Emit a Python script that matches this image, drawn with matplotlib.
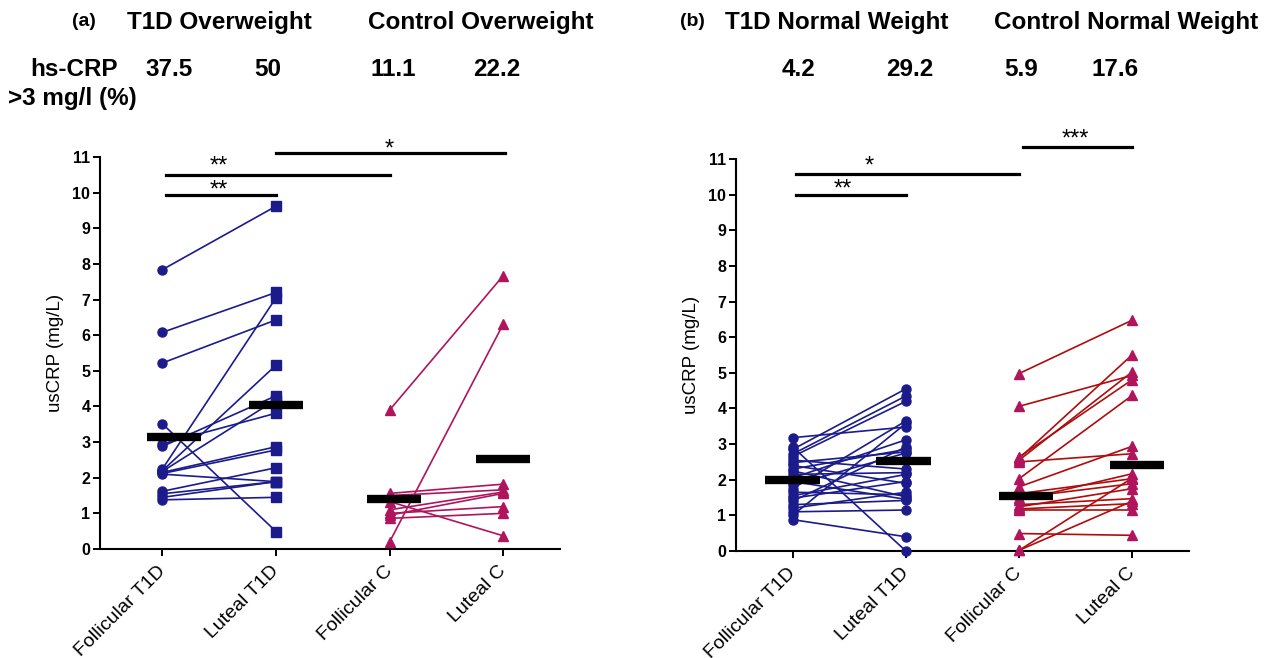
import matplotlib
matplotlib.use("Agg")
import matplotlib.pyplot as plt

plt.rcParams["font.family"] = ["Liberation Sans", "DejaVu Sans"]

CATEGORIES = ["Follicular T1D", "Luteal T1D", "Follicular C", "Luteal C"]

# panel (a) - overweight
A_T1D_FOL = [7.84, 6.08, 5.22, 3.51, 2.95, 2.88, 2.25, 2.20, 2.18, 2.15, 2.12, 2.10, 1.62, 1.55, 1.45, 1.38]
A_T1D_LUT = [9.62, 7.20, 6.43, 0.49, 3.81, 4.30, 7.05, 5.16, 4.19, 2.87, 2.78, 1.89, 2.28, 1.89, 1.89, 1.45]
A_CON_FOL = [3.90, 1.56, 1.50, 1.33, 1.10, 1.00, 0.95, 0.86, 0.20]
A_CON_LUT = [7.67, 1.82, 1.66, 0.37, 1.60, 1.19, 1.56, 1.00, 6.31]
A_MEANS = [3.13, 4.03, 1.40, 2.53]
A_MEAN_POS = [0.1, 0.0, 0.04, 0.0]

# panel (b) - normal weight
B_T1D_FOL = [3.18, 2.92, 2.85, 2.72, 2.65, 2.55, 2.48, 2.40, 2.30, 2.25, 2.15, 2.05,
             1.95, 1.85, 1.75, 1.65, 1.55, 1.48, 1.40, 1.30, 1.20, 1.10, 1.00, 0.88]
B_T1D_LUT = [3.48, 0.00, 4.55, 4.35, 4.20, 2.30, 2.78, 1.90, 2.85, 1.52, 2.20, 3.12,
             1.45, 2.75, 3.65, 1.58, 2.15, 1.95, 2.92, 1.42, 1.65, 1.15, 3.58, 0.40]
B_CON_FOL = [4.98, 4.06, 2.64, 2.60, 2.50, 2.03, 1.80, 1.61, 1.50, 1.42, 1.30, 1.24,
             1.18, 1.14, 0.49, 0.02, 0.02, 2.55]
B_CON_LUT = [6.48, 4.93, 4.81, 5.51, 2.73, 4.37, 2.94, 2.03, 1.89, 2.17, 1.47, 1.75,
             1.33, 1.14, 0.44, 1.40, 2.05, 5.03]
B_MEANS = [1.98, 2.53, 1.54, 2.41]
B_MEAN_POS = [0.0, -0.02, 0.06, 0.04]

# header rows
A_HEAD = ["T1D Overweight", "Control Overweight"]
A_PCT = ["37.5", "50", "11.1", "22.2"]
B_HEAD = ["T1D Normal Weight", "Control Normal Weight"]
B_PCT = ["4.2", "29.2", "5.9", "17.6"]

BLUE = "#1b1b8c"
MAGENTA = "#b0145c"
DARKRED = "#b00c0c"
W, H = 1268, 658


def px(x, y):
    return x / W, 1 - y / H


def pairs(ax, x0, fol, lut, color, m0, m1, mcolor=None):
    mcolor = mcolor or color
    for f, l in zip(fol, lut):
        ax.plot([x0, x0 + 1], [f, l], color=color, lw=1.2, zorder=2, clip_on=False)
        ax.plot(x0, f, marker=m0, ms=6.5, color=mcolor, zorder=3, clip_on=False)
        ax.plot(x0 + 1, l, marker=m1, ms=6.5, color=mcolor, zorder=3, clip_on=False)


def setup(ax, means, mean_pos, sig):
    for i, (m, p) in enumerate(zip(means, mean_pos)):
        ax.plot([i + p - 0.24, i + p + 0.24], [m, m], color="black", lw=6,
                solid_capstyle="butt", zorder=5)
    for x1, x2, y, ty, tx, label in sig:
        ax.plot([x1, x2], [y, y], color="black", lw=2.3, clip_on=False, zorder=6)
        ax.text(tx, ty, label, ha="center", va="center", fontsize=17, clip_on=False)
    ax.set_ylim(0, 11)
    ax.set_yticks(range(12))
    ax.set_yticklabels([str(i) for i in range(12)], fontsize=11.5, fontweight="bold")
    ax.set_xticks(range(4))
    ax.set_xticklabels(CATEGORIES, rotation=45, ha="right", va="center",
                       rotation_mode="anchor", fontsize=14)
    ax.tick_params(axis="x", pad=9)
    ax.tick_params(axis="y", pad=2)
    ax.tick_params(length=5, width=1.4)
    for s in ["top", "right"]:
        ax.spines[s].set_visible(False)
    for s in ["left", "bottom"]:
        ax.spines[s].set_linewidth(1.5)
    ax.set_ylabel("usCRP (mg/L)", fontsize=13.5, labelpad=6)


fig = plt.figure(figsize=(W / 100, H / 100), dpi=100)

# panel (a)
axa = fig.add_axes([100 / W, 109 / H, 460 / W, 392 / H])
axa.set_xlim(-0.55, 3.5)
pairs(axa, 0, A_T1D_FOL, A_T1D_LUT, BLUE, "o", "s")
pairs(axa, 2, A_CON_FOL, A_CON_LUT, MAGENTA, "^", "^")
setup(axa, A_MEANS, A_MEAN_POS, [
    (0.03, 1.0, 9.92, 10.05, 0.5, "**"),
    (0.03, 2.0, 10.5, 10.72, 0.5, "**"),
    (1.0, 3.02, 11.1, 11.22, 2.0, "*"),
])

# panel (b)
axb = fig.add_axes([736 / W, 107 / H, 453 / W, 392 / H])
axb.set_xlim(-0.5, 3.5)
pairs(axb, 0, B_T1D_FOL, B_T1D_LUT, BLUE, "o", "o")
pairs(axb, 2, B_CON_FOL, B_CON_LUT, DARKRED, "^", "^", mcolor=MAGENTA)
setup(axb, B_MEANS, B_MEAN_POS, [
    (0.03, 1.0, 9.99, 10.15, 0.44, "**"),
    (0.03, 2.0, 10.57, 10.8, 0.68, "*"),
    (2.03, 3.0, 11.33, 11.55, 2.5, "***"),
])

# header texts
bold = dict(fontweight="bold", ha="center", va="center")
fig.text(*px(84, 22), "(a)", fontsize=14, **bold)
fig.text(*px(219, 22), A_HEAD[0], fontsize=17.5, **bold)
fig.text(*px(481, 22), A_HEAD[1], fontsize=17.5, **bold)
fig.text(*px(74, 70), "hs-CRP", fontsize=17.5, **bold)
fig.text(*px(72, 98), ">3 mg/l (%)", fontsize=17.5, **bold)
for x, t in zip([169, 268, 393, 497], A_PCT):
    fig.text(*px(x, 70), t, fontsize=17.5, **bold)

fig.text(*px(692, 22), "(b)", fontsize=14, **bold)
fig.text(*px(837, 22), B_HEAD[0], fontsize=17.5, **bold)
fig.text(*px(1126, 22), B_HEAD[1], fontsize=17.5, **bold)
for x, t in zip([799, 910, 1021, 1115], B_PCT):
    fig.text(*px(x, 70), t, fontsize=17.5, **bold)

fig.savefig("out.png", dpi=100)
